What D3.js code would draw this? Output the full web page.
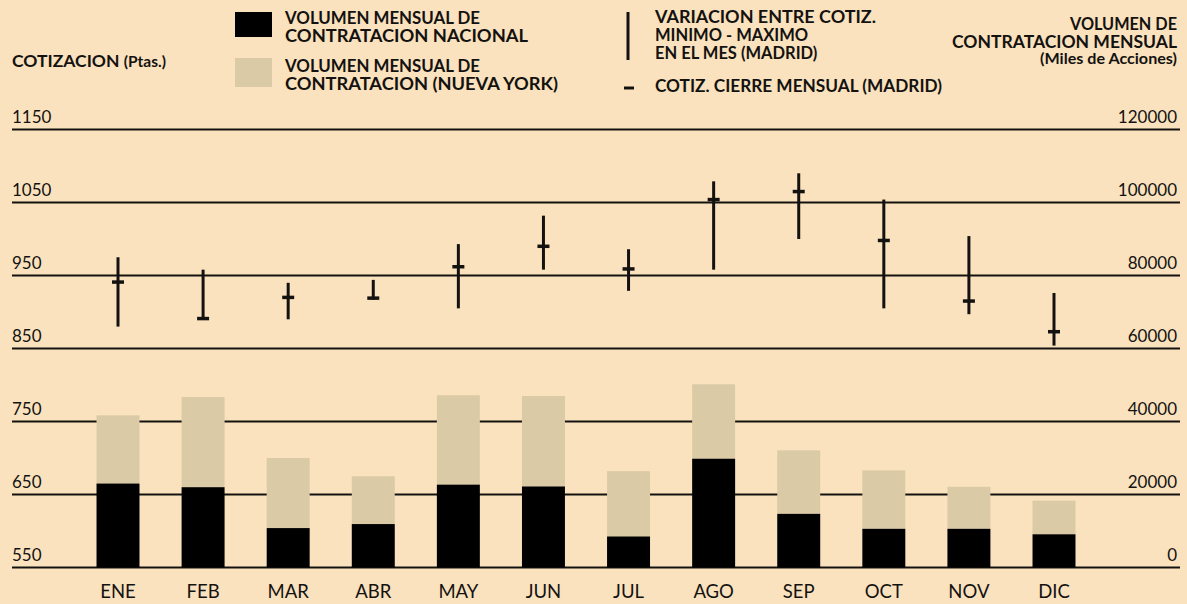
<!DOCTYPE html>
<html>
<head>
<meta charset="utf-8">
<script src="https://cdn.jsdelivr.net/npm/d3@7"></script>
<style>
  html, body { margin: 0; padding: 0; background: #fae2be; }
  svg { display: block; }
  text { font-family: "Lato", "Open Sans", sans-serif; fill: #141210; }
</style>
</head>
<body>
<svg id="chart" width="1187" height="604"></svg>
<script>
// ---- Data ----
const months = ["ENE","FEB","MAR","ABR","MAY","JUN","JUL","AGO","SEP","OCT","NOV","DIC"];
// Volumen mensual (miles de acciones)
const volNacional  = [23000, 22000, 10800, 11900, 22700, 22200, 8500, 29800, 14700, 10600, 10600, 9100];
const volNuevaYork = [18700, 24700, 19200, 13100, 24500, 24800, 17900, 20400, 17400, 16000, 11500, 9200];
// Cotizacion Madrid (Ptas.)
const cotMax    = [975, 958, 940, 944, 993, 1032, 986, 1079, 1090, 1054, 1004, 926];
const cotMin    = [880, 891, 890, 917, 905, 958, 929, 958, 1000, 905, 897, 854];
const cotCierre = [941, 891, 920, 919, 962, 990, 959, 1054, 1065, 998, 915, 873];
// Axis ticks
const leftTicks  = [550, 650, 750, 850, 950, 1050, 1150];
const rightTicks = [0, 20000, 40000, 60000, 80000, 100000, 120000];
const leftTickLabels  = ["550", "650", "750", "850", "950", "1050", "1150"];
const rightTickLabels = ["0", "20000", "40000", "60000", "80000", "100000", "120000"];

// ---- Layout ----
const svg = d3.select("#chart");
const ink = "#141210";
const beige = "#dbcaa6";
const yTop = 129.5, yBot = 567.5;
const gridX0 = 12, gridX1 = 1180;

const yLeft  = d3.scaleLinear().domain([550, 1150]).range([yBot, yTop]);
const yRight = d3.scaleLinear().domain([0, 120000]).range([yBot, yTop]);
const x = d3.scaleBand().domain(months).range([75.45, 1096.55])
  .paddingInner(0.495).paddingOuter(0.2475);
const cx = m => x(m) + x.bandwidth() / 2;

// Grid lines
svg.append("g").selectAll("line").data(leftTicks).join("line")
  .attr("x1", gridX0).attr("x2", gridX1)
  .attr("y1", d => yLeft(d)).attr("y2", d => yLeft(d))
  .attr("stroke", ink).attr("stroke-width", 2);

// Left axis labels
svg.append("g").selectAll("text").data(leftTicks).join("text")
  .attr("x", gridX0).attr("y", d => yLeft(d) - 7)
  .attr("font-size", 17)
  .text((d, i) => leftTickLabels[i]);

// Right axis labels
svg.append("g").selectAll("text").data(rightTicks).join("text")
  .attr("x", 1177).attr("y", d => yRight(d) - 7)
  .attr("text-anchor", "end")
  .attr("font-size", 17)
  .text((d, i) => rightTickLabels[i]);

// Bars: nacional (black) at bottom, Nueva York (beige) stacked on top
const stackData = months.map((m, i) => ({ m, nac: volNacional[i], ny: volNuevaYork[i] }));
const bars = svg.append("g");
bars.selectAll("rect.ny").data(stackData).join("rect").attr("class", "ny")
  .attr("x", d => x(d.m)).attr("width", x.bandwidth())
  .attr("y", d => yRight(d.nac + d.ny))
  .attr("height", d => yRight(d.nac) - yRight(d.nac + d.ny))
  .attr("fill", beige);
bars.selectAll("rect.nac").data(stackData).join("rect").attr("class", "nac")
  .attr("x", d => x(d.m)).attr("width", x.bandwidth())
  .attr("y", d => yRight(d.nac))
  .attr("height", d => yRight(0) - yRight(d.nac))
  .attr("fill", "#000");

// Price ranges
const priceData = months.map((m, i) => ({ m, hi: cotMax[i], lo: cotMin[i], cl: cotCierre[i] }));
const pg = svg.append("g");
pg.selectAll("line.rng").data(priceData).join("line").attr("class", "rng")
  .attr("x1", d => cx(d.m)).attr("x2", d => cx(d.m))
  .attr("y1", d => yLeft(d.hi)).attr("y2", d => yLeft(d.lo))
  .attr("stroke", ink).attr("stroke-width", 3);
pg.selectAll("line.cl").data(priceData).join("line").attr("class", "cl")
  .attr("x1", d => cx(d.m) - 6).attr("x2", d => cx(d.m) + 6)
  .attr("y1", d => yLeft(d.cl)).attr("y2", d => yLeft(d.cl))
  .attr("stroke", ink).attr("stroke-width", 3.5);

// Month labels
svg.append("g").selectAll("text").data(months).join("text")
  .attr("x", d => cx(d)).attr("y", 598)
  .attr("text-anchor", "middle").attr("font-size", 18.5)
  .text(d => d);

// ---- Titles & legend ----
function txt(str, xx, yy, size, weight, anchor, len) {
  const t = svg.append("text").attr("x", xx).attr("y", yy)
    .attr("font-size", size).attr("font-weight", weight)
    .attr("text-anchor", anchor || "start").text(str);
  if (len) t.attr("textLength", len).attr("lengthAdjust", "spacingAndGlyphs");
  return t;
}
// Left title
const lt = svg.append("text").attr("x", 12).attr("y", 67).attr("font-weight", 700);
lt.append("tspan").attr("font-size", 17.5).text("COTIZACION ");
lt.append("tspan").attr("font-size", 15.5).text("(Ptas.)");

// Legend swatches
svg.append("rect").attr("x", 235).attr("y", 12).attr("width", 37).attr("height", 25).attr("fill", "#000");
svg.append("rect").attr("x", 235).attr("y", 58).attr("width", 37).attr("height", 29).attr("fill", beige);
const LF = 16.5;
txt("VOLUMEN MENSUAL DE", 285, 24, LF, 700, "start", 195);
txt("CONTRATACION NACIONAL", 285, 42, LF, 700, "start", 243);
txt("VOLUMEN MENSUAL DE", 285, 72, LF, 700, "start", 195);
txt("CONTRATACION (NUEVA YORK)", 285, 90, LF, 700, "start", 273);

svg.append("line").attr("x1", 628).attr("x2", 628).attr("y1", 12).attr("y2", 60)
  .attr("stroke", ink).attr("stroke-width", 3);
svg.append("line").attr("x1", 624).attr("x2", 634).attr("y1", 88).attr("y2", 88)
  .attr("stroke", ink).attr("stroke-width", 3);
txt("VARIACION ENTRE COTIZ.", 655, 23, LF, 700, "start", 221);
txt("MINIMO - MAXIMO", 655, 41, LF, 700);
txt("EN EL MES (MADRID)", 655, 59, LF, 700);
txt("COTIZ. CIERRE MENSUAL (MADRID)", 655, 92, LF, 700, "start", 287);

// Right title
txt("VOLUMEN DE", 1177, 30, LF, 700, "end", 107);
txt("CONTRATACION MENSUAL", 1177, 48, LF, 700, "end", 225);
txt("(Miles de Acciones)", 1177, 64, 14.5, 700, "end", 137);
</script>
</body>
</html>
